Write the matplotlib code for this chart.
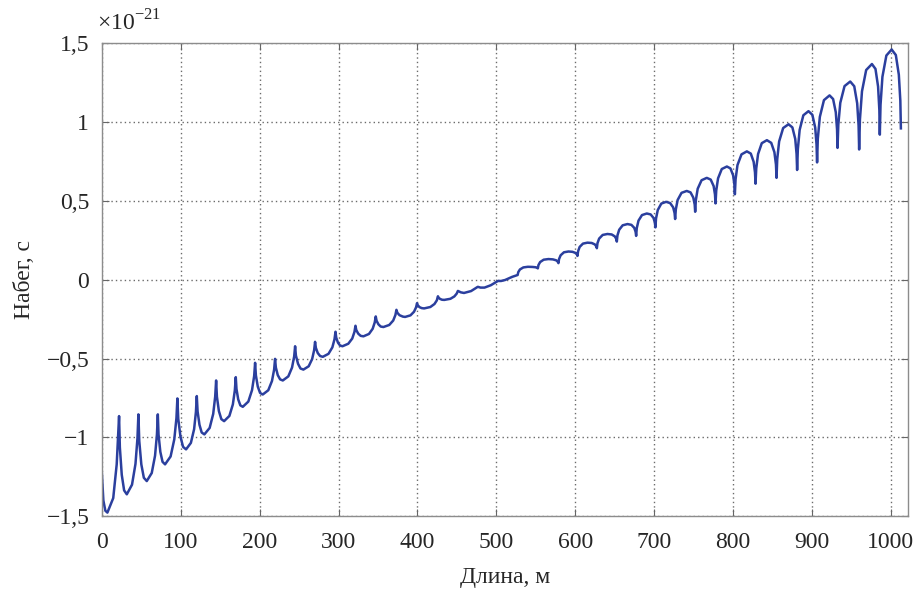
import matplotlib
matplotlib.use("Agg")
import matplotlib.pyplot as plt
import numpy as np

# накопленный набег, единицы 1e-21 с
# левая часть: вогнутые дуги с острыми пиками вверх
lower_x = [0.0, 2.0, 4.5, 7.1, 14.5, 18.9,
           21.9, 22.9, 25.3, 28.3, 31.7, 38.3, 42.7, 45.2,
           46.4, 47.5, 50.1, 53.3, 57.0, 63.3, 67.5, 69.9,
           71.0, 71.9, 74.2, 77.0, 80.2, 87.2, 91.9, 94.6,
           95.8, 96.9, 99.7, 103.0, 106.8, 112.9, 117.0, 119.3,
           120.4, 121.4, 123.8, 126.6, 130.0, 136.7, 141.2, 143.7,
           144.9, 145.9, 148.4, 151.5, 155.0, 161.7, 166.1, 168.6,
           169.8, 170.7, 172.9, 175.6, 178.7, 185.7, 190.4, 193.1,
           194.3, 195.3, 197.7, 200.6, 204.0, 211.0, 215.7, 218.4,
           219.6, 220.6, 223.0, 226.0, 229.4, 236.4, 241.1, 243.8,
           245.0, 246.0, 248.7, 251.8, 255.5, 262.2, 266.6, 269.1,
           270.3, 271.3, 273.7, 276.7, 280.1, 287.3, 292.2, 294.9,
           296.2, 297.1, 299.3, 301.9, 305.0, 312.4, 317.4, 320.2,
           321.5, 322.5, 325.0, 328.1, 331.6, 338.6, 343.3, 345.9,
           347.2, 348.2, 350.6, 353.5, 356.9, 364.3, 369.3, 372.1,
           373.4, 374.5, 377.3, 381.6, 384.4, 391.2, 395.7, 398.3,
           399.5, 400.4, 402.7, 405.4, 408.5, 416.4, 421.6, 424.6,
           426.0, 426.8, 428.8, 431.2, 434.0, 441.8, 446.8, 449.8]
lower_y = [-1.220, -1.400, -1.465, -1.477, -1.385, -1.171,
           -0.865, -1.063, -1.237, -1.336, -1.361, -1.300, -1.168, -1.006,
           -0.854, -1.023, -1.171, -1.256, -1.277, -1.226, -1.116, -0.981,
           -0.854, -0.981, -1.092, -1.155, -1.171, -1.121, -1.012, -0.878,
           -0.753, -0.882, -0.995, -1.060, -1.076, -1.035, -0.948, -0.839,
           -0.738, -0.835, -0.920, -0.969, -0.981, -0.940, -0.851, -0.742,
           -0.639, -0.742, -0.833, -0.884, -0.897, -0.864, -0.791, -0.702,
           -0.618, -0.693, -0.759, -0.797, -0.806, -0.773, -0.700, -0.611,
           -0.527, -0.607, -0.678, -0.718, -0.728, -0.701, -0.642, -0.570,
           -0.502, -0.557, -0.605, -0.632, -0.639, -0.613, -0.557, -0.487,
           -0.422, -0.481, -0.533, -0.563, -0.570, -0.549, -0.503, -0.447,
           -0.394, -0.432, -0.465, -0.484, -0.489, -0.470, -0.429, -0.378,
           -0.330, -0.367, -0.399, -0.417, -0.422, -0.406, -0.373, -0.331,
           -0.292, -0.319, -0.342, -0.356, -0.359, -0.344, -0.311, -0.271,
           -0.233, -0.260, -0.283, -0.297, -0.300, -0.287, -0.259, -0.224,
           -0.191, -0.209, -0.225, -0.234, -0.236, -0.226, -0.203, -0.175,
           -0.149, -0.162, -0.174, -0.180, -0.182, -0.173, -0.154, -0.131,
           -0.105, -0.114, -0.122, -0.127, -0.128, -0.121, -0.106, -0.088]

# середина, почти прямой участок
middle_x = [451.3, 455.0, 459.0, 468.0, 476.5, 480.0, 485.0, 493.0,
            502.0, 506.0, 511.0, 520.0]
middle_y = [-0.071, -0.080, -0.084, -0.072, -0.045, -0.050, -0.050, -0.035,
            -0.008, -0.008, -0.002, 0.018]

# правая часть: выпуклые арки с острыми провалами
upper_x = [527.0, 527.8, 529.9, 534.2, 540.0, 545.7, 549.8, 551.8,
           552.6, 553.4, 555.5, 560.0, 566.0, 571.7, 575.9, 577.9,
           578.7, 579.5, 581.5, 585.7, 591.4, 596.5, 600.3, 602.1,
           602.8, 603.6, 605.6, 609.8, 615.5, 620.9, 624.8, 626.7,
           627.4, 628.2, 630.3, 634.8, 640.8, 646.2, 650.1, 652.0,
           652.7, 653.5, 655.7, 660.1, 666.2, 671.2, 674.8, 676.5,
           677.2, 678.0, 680.2, 684.6, 690.7, 695.6, 699.2, 700.9,
           701.6, 702.4, 704.6, 709.1, 715.2, 720.3, 724.1, 725.9,
           726.6, 727.5, 729.8, 734.7, 741.3, 746.1, 749.6, 751.4,
           752.0, 752.9, 755.2, 760.1, 766.7, 771.7, 775.4, 777.1,
           777.8, 778.7, 781.0, 785.7, 792.2, 796.7, 800.1, 801.7,
           802.3, 803.2, 805.6, 810.7, 817.5, 822.5, 826.1, 827.8,
           828.5, 829.4, 831.7, 836.4, 842.9, 848.4, 852.4, 854.4,
           855.1, 856.0, 858.4, 863.5, 870.3, 875.2, 878.8, 880.5,
           881.2, 882.1, 884.4, 889.1, 895.6, 900.5, 904.1, 905.8,
           906.5, 907.4, 910.0, 915.2, 922.3, 926.8, 930.2, 931.8,
           932.4, 933.4, 935.9, 941.3, 948.5, 953.6, 957.3, 959.1,
           959.8, 960.8, 963.4, 968.7, 976.0, 980.5, 983.8, 985.4,
           986.0, 986.9, 989.3, 994.3, 1001.0, 1006.3, 1010.1, 1012.0,
           1012.7]
upper_y = [0.030, 0.048, 0.065, 0.078, 0.082, 0.081, 0.079, 0.075,
           0.072, 0.093, 0.112, 0.127, 0.131, 0.129, 0.123, 0.114,
           0.105, 0.131, 0.155, 0.174, 0.179, 0.177, 0.170, 0.161,
           0.151, 0.180, 0.208, 0.229, 0.235, 0.233, 0.224, 0.212,
           0.200, 0.232, 0.261, 0.284, 0.290, 0.287, 0.275, 0.259,
           0.242, 0.281, 0.317, 0.345, 0.353, 0.348, 0.329, 0.304,
           0.278, 0.328, 0.375, 0.410, 0.420, 0.414, 0.392, 0.363,
           0.332, 0.389, 0.442, 0.483, 0.494, 0.486, 0.459, 0.423,
           0.385, 0.447, 0.506, 0.551, 0.563, 0.554, 0.521, 0.477,
           0.431, 0.506, 0.577, 0.631, 0.646, 0.635, 0.594, 0.541,
           0.484, 0.566, 0.643, 0.702, 0.718, 0.706, 0.662, 0.604,
           0.542, 0.637, 0.727, 0.795, 0.814, 0.800, 0.748, 0.681,
           0.609, 0.706, 0.797, 0.866, 0.885, 0.868, 0.809, 0.730,
           0.646, 0.765, 0.877, 0.962, 0.986, 0.966, 0.893, 0.798,
           0.696, 0.827, 0.950, 1.043, 1.069, 1.046, 0.965, 0.858,
           0.744, 0.893, 1.033, 1.139, 1.169, 1.146, 1.062, 0.953,
           0.836, 0.983, 1.122, 1.228, 1.257, 1.227, 1.119, 0.977,
           0.826, 1.016, 1.195, 1.330, 1.368, 1.337, 1.225, 1.077,
           0.920, 1.109, 1.287, 1.422, 1.460, 1.425, 1.300, 1.135,
           0.960]

x_ticks = [0, 100, 200, 300, 400, 500, 600, 700, 800, 900, 1000]
y_ticks = [-1.5, -1, -0.5, 0, 0.5, 1, 1.5]
y_tick_labels = ["\u22121,5", "\u22121", "\u22120,5", "0", "0,5", "1", "1,5"]

plt.rcParams["font.family"] = ["Liberation Serif", "DejaVu Serif"]
plt.rcParams["mathtext.fontset"] = "custom"
plt.rcParams["mathtext.rm"] = "Liberation Serif"
plt.rcParams["font.size"] = 17

length = np.array(lower_x + middle_x + upper_x)
nabeg = np.array(lower_y + middle_y + upper_y)

fig = plt.figure(figsize=(9.17, 5.92), dpi=100)
ax = fig.add_axes([0.111, 0.128, 0.879, 0.799])

ax.plot(length, nabeg, color="#2b3f9e", lw=1.8, solid_joinstyle="round")

ax.set_xlim(0, 1021.5)
ax.set_ylim(-1.5, 1.5)
ax.set_xticks(x_ticks)
ax.set_xticklabels([str(t) for t in x_ticks])
ax.set_yticks(y_ticks)
ax.set_yticklabels(y_tick_labels)

ax.grid(True, color="0.42", linestyle=(0, (1, 2.2)), lw=1.0)
ax.tick_params(direction="in", length=5, width=0.8, color="0.4",
               top=True, right=True, labelcolor="0.15")
ax.tick_params(axis="x", pad=11)
ax.tick_params(axis="y", pad=9)
for sp in ax.spines.values():
    sp.set_color("0.55")
    sp.set_linewidth(1.0)

ax.set_xlabel("Длина, м", color="0.15")
ax.set_ylabel("Набег, с", color="0.15")
ax.xaxis.set_label_coords(0.5, -0.107)
ax.yaxis.set_label_coords(-0.083, 0.5)

ax.text(-0.006, 1.016, "\u00d710$^{\u221221}$", transform=ax.transAxes,
        ha="left", va="bottom", color="0.15")

fig.savefig("out.png", dpi=100)
